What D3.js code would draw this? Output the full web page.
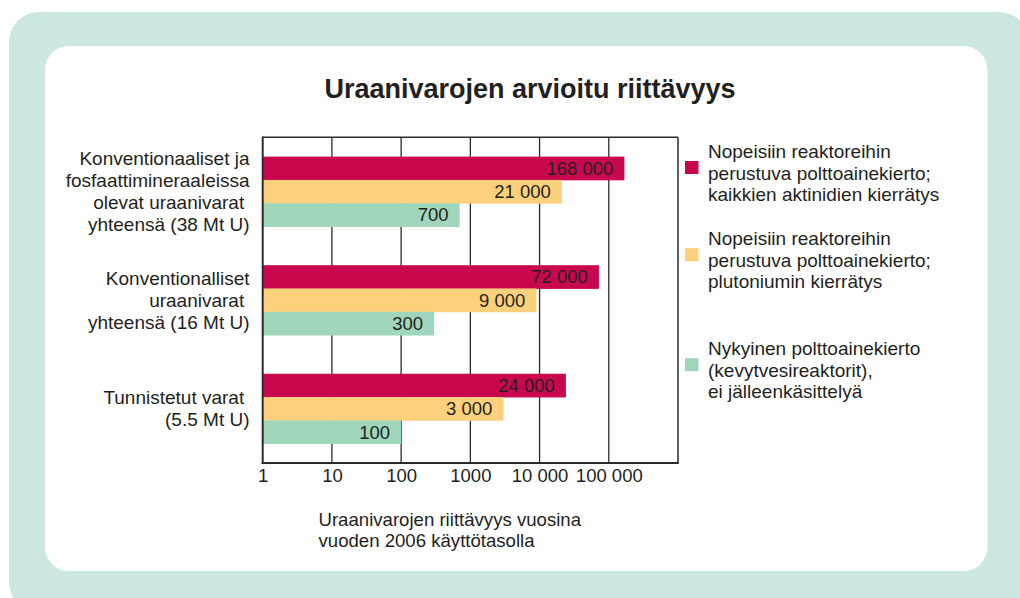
<!DOCTYPE html>
<html>
<head>
<meta charset="utf-8">
<script src="https://cdn.jsdelivr.net/npm/d3@7"></script>
<style>
  html, body { margin: 0; padding: 0; background: #ffffff; }
  svg { display: block; }
  text { font-family: "Liberation Sans", Arial, Helvetica, sans-serif; fill: #231f20; white-space: pre; }
</style>
</head>
<body>
<svg id="chart" width="1020" height="598"></svg>
<script>
// ---- data ----
const title = "Uraanivarojen arvioitu riittävyys";
const categories = ["conv_phos", "conv", "identified"];
const categoryLines = [
  ["Konventionaaliset ja", "fosfaattimineraaleissa", "olevat uraanivarat ", "yhteensä (38 Mt U)"],
  ["Konventionalliset", "uraanivarat ", "yhteensä (16 Mt U)"],
  ["Tunnistetut varat ", "(5.5 Mt U)"]
];
const seriesKeys = ["fastActinides", "fastPlutonium", "current"];
const fastActinides = [168000, 72000, 24000];
const fastPlutonium = [21000, 9000, 3000];
const currentCycle = [700, 300, 100];
const seriesColors = ["#c8074f", "#fdd17c", "#9fd6bc"];
const legendLines = [
  ["Nopeisiin reaktoreihin", "perustuva polttoainekierto;", "kaikkien aktinidien kierrätys"],
  ["Nopeisiin reaktoreihin", "perustuva polttoainekierto;", "plutoniumin kierrätys"],
  ["Nykyinen polttoainekierto", "(kevytvesireaktorit),", "ei jälleenkäsittelyä"]
];
const tickValues = [1, 10, 100, 1000, 10000, 100000];
const tickLabels = ["1", "10", "100", "1000", "10 000", "100 000"];
const axisTitleLines = ["Uraanivarojen riittävyys vuosina", "vuoden 2006 käyttötasolla"];

const seriesValues = [fastActinides, fastPlutonium, currentCycle];
const fmt = d3.formatLocale({decimal: ",", thousands: " ", grouping: [3], currency: ["", ""]}).format(",");

// ---- layout ----
const svg = d3.select("#chart");
const plot = {left: 262.7, right: 678, top: 137.3, bottom: 463};

// background frames
svg.append("rect").attr("x", 9).attr("y", 12).attr("width", 1020).attr("height", 600)
  .attr("rx", 30).attr("fill", "#cce7e1");
svg.append("rect").attr("x", 45).attr("y", 46).attr("width", 942.5).attr("height", 525)
  .attr("rx", 24).attr("fill", "#ffffff");

// title
svg.append("text").attr("x", 530).attr("y", 97.7).attr("text-anchor", "middle")
  .style("font-size", "27px").style("font-weight", "bold").text(title);

// scales
const x = d3.scaleLog().domain([1, 1e6]).range([plot.left, plot.right]);
const y = d3.scaleBand().domain(categories).range([plot.top, plot.bottom])
  .paddingInner(0.356).paddingOuter(0.178);
const ySub = d3.scaleBand().domain(seriesKeys).range([0, y.bandwidth()]);

// bars
const rows = [];
categories.forEach((c, i) => {
  seriesKeys.forEach((s, j) => {
    rows.push({cat: c, key: s, value: seriesValues[j][i], color: seriesColors[j]});
  });
});

// grid lines
const gridG = svg.append("g");
gridG.selectAll("line").data(tickValues.slice(1)).join("line")
  .attr("x1", d => x(d)).attr("x2", d => x(d))
  .attr("y1", plot.top).attr("y2", plot.bottom)
  .attr("stroke", "#2b2b2b").attr("stroke-width", 1.3);

const barG = svg.append("g");
barG.selectAll("rect").data(rows).join("rect")
  .attr("x", x(1))
  .attr("y", d => y(d.cat) + ySub(d.key))
  .attr("width", d => x(d.value) - x(1))
  .attr("height", ySub.bandwidth() + 0.4)
  .attr("fill", d => d.color);

// frame
svg.append("line").attr("x1", plot.left).attr("x2", plot.right).attr("y1", plot.top).attr("y2", plot.top)
  .attr("stroke", "#2b2b2b").attr("stroke-width", 1.5);
svg.append("line").attr("x1", plot.right).attr("x2", plot.right).attr("y1", plot.top).attr("y2", plot.bottom)
  .attr("stroke", "#2b2b2b").attr("stroke-width", 1.5);
svg.append("line").attr("x1", plot.left).attr("x2", plot.left).attr("y1", plot.top - 0.75).attr("y2", plot.bottom + 1)
  .attr("stroke", "#2b2b2b").attr("stroke-width", 2);
svg.append("line").attr("x1", plot.left - 1).attr("x2", plot.right + 0.75).attr("y1", plot.bottom).attr("y2", plot.bottom)
  .attr("stroke", "#2b2b2b").attr("stroke-width", 2);

// bar value labels
svg.append("g").selectAll("text").data(rows).join("text")
  .attr("x", d => x(d.value) - 11)
  .attr("y", d => y(d.cat) + ySub(d.key) + ySub.bandwidth() / 2 + 6.5)
  .attr("text-anchor", "end")
  .style("font-size", "18.5px")
  .text(d => fmt(d.value));

// x axis tick labels
const xAxis = d3.axisBottom(x).tickValues(tickValues)
  .tickFormat((d, i) => tickLabels[i]).tickSize(0).tickPadding(0);
const axG = svg.append("g").attr("transform", `translate(0,${plot.bottom})`).call(xAxis);
axG.select(".domain").remove();
axG.selectAll("text").attr("dy", null).attr("y", 19)
  .style("font-size", "18.5px").style("fill", "#231f20")
  .style("font-family", "'Liberation Sans', Arial, sans-serif");

// category labels
categories.forEach((c, i) => {
  const lines = categoryLines[i];
  const lh = 22;
  const cy = y(c) + y.bandwidth() / 2;
  const firstBaseline = cy - (lines.length - 1) * lh / 2 + 6.5;
  const t = svg.append("text").attr("text-anchor", "end").style("font-size", "19px");
  lines.forEach((ln, k) => {
    t.append("tspan").attr("x", 249.5).attr("y", firstBaseline + k * lh).text(ln);
  });
});

// legend
const legendMid = [179.5, 266.7, 376.7];
legendLines.forEach((lines, i) => {
  const mid = legendMid[i];
  svg.append("rect").attr("x", 685).attr("y", mid - 18.5).attr("width", 13.5).attr("height", 13)
    .attr("fill", seriesColors[i]);
  const t = svg.append("text").style("font-size", "19px");
  lines.forEach((ln, k) => {
    t.append("tspan").attr("x", 708).attr("y", mid + (k - 1) * 21.7).text(ln);
  });
});

// axis title
const at = svg.append("text").style("font-size", "18.6px");
axisTitleLines.forEach((ln, k) => {
  at.append("tspan").attr("x", 318.5).attr("y", 526 + k * 20.5).text(ln);
});
</script>
</body>
</html>
